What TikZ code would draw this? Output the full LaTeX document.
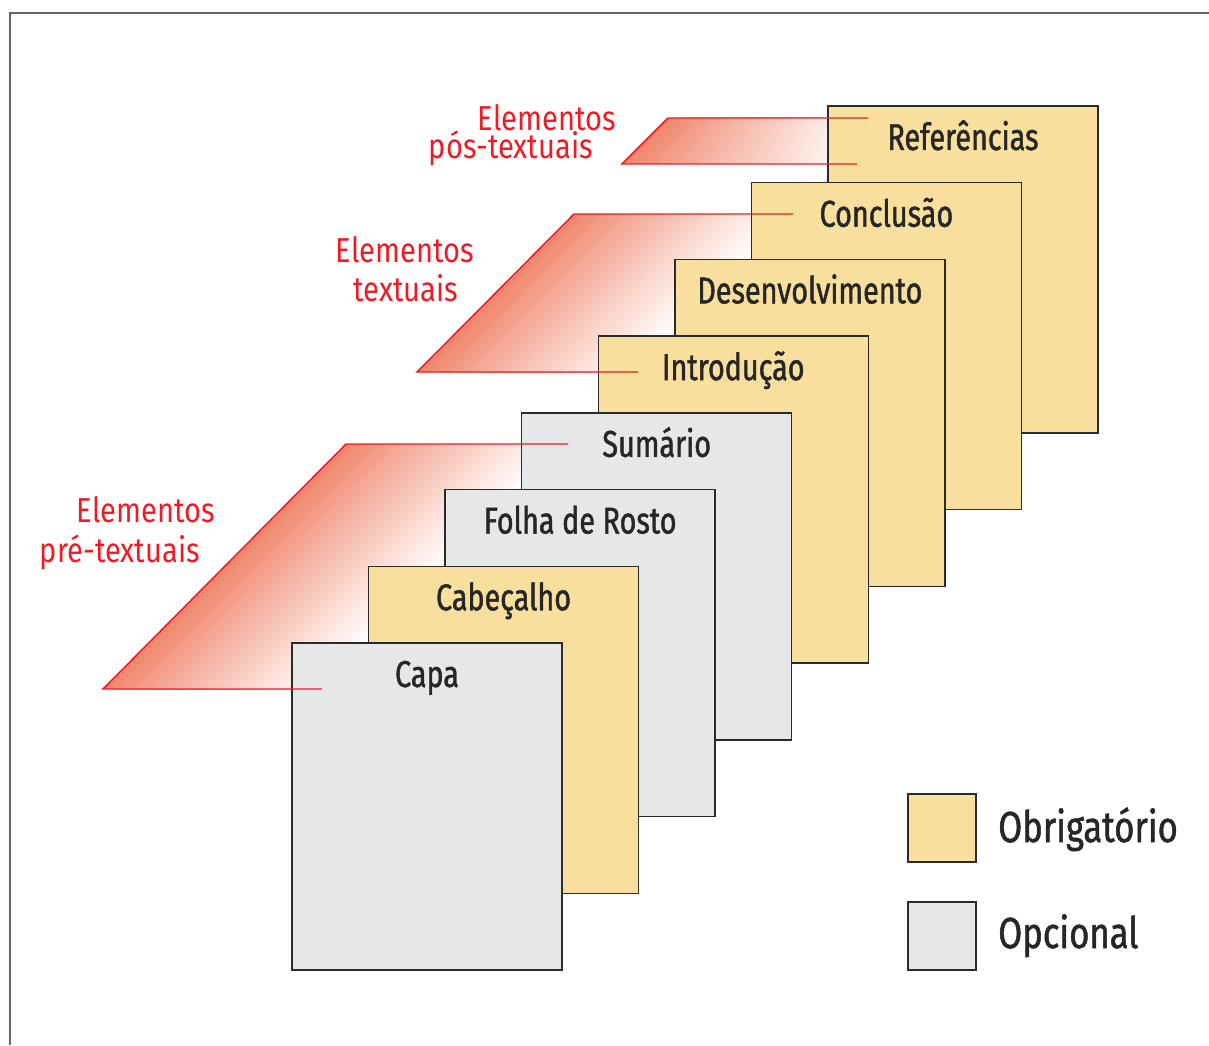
\documentclass[tikz,border=0pt]{standalone}
\usepackage{fontspec}
\setmainfont{Fira Sans}[FakeStretch=0.84]
\newfontfamily\rotulo{Fira Sans}[FakeStretch=0.77,FakeBold=1.2]
\newfontfamily\rotulolarg{Fira Sans}[FakeStretch=0.8,FakeBold=1.2]
\usetikzlibrary{calc}

\definecolor{amarelo}{HTML}{F9DF9D}
\definecolor{cinza}{HTML}{E6E7E8}
\definecolor{contorno}{HTML}{2B2A29}
\definecolor{vermelho}{HTML}{ED1C24}
\definecolor{salmao}{HTML}{F0876D}

\begin{document}
\begin{tikzpicture}[x=0.75pt,y=-0.75pt]

\tikzset{
    folha/.style = {
    draw=contorno, line width=1.1pt,
    minimum width=202.5pt, minimum height=245.25pt,
    inner sep=0pt, outer sep=0pt, anchor=north west
    }
}

\tikzstyle{obrig}=[folha, fill=amarelo]
\tikzstyle{opc}=[folha, fill=cinza]
\tikzstyle{titulo}=[anchor=base, font=\rotulo\fontsize{28}{30}\selectfont, text=black!85]
\tikzstyle{grupo}=[anchor=base, inner sep=0pt, font=\fontsize{26}{28}\selectfont, text=vermelho]
\tikzstyle{legenda}=[anchor=base west, inner sep=0pt, font=\rotulolarg\fontsize{32.5}{34}\selectfont, text=black!85]

\useasboundingbox (0,0) rectangle (1209,1045);
\draw[black!60, line width=1.2pt] (10,1045) |- (1209,13);

% faixas: a = canto de cima, d = canto de baixo, t/u = pontas das linhas
\coordinate (pos-a) at (668,118); \coordinate (pos-t) at (868,118);
\coordinate (pos-d) at (622,164); \coordinate (pos-u) at (857,164);
\coordinate (txt-a) at (574,214); \coordinate (txt-t) at (793,214);
\coordinate (txt-d) at (417,372); \coordinate (txt-u) at (638,372);
\coordinate (pre-a) at (346,444); \coordinate (pre-t) at (568,444);
\coordinate (pre-d) at (103,689); \coordinate (pre-u) at (322,689);

\foreach \w in {pos,txt,pre}{
    \foreach \k in {0,...,39}{
        \pgfmathsetmacro\f{\k/40}
        \pgfmathsetmacro\p{100*(1-\f)^1.1}
        \fill[salmao!\p!white] ($(\w-a)!\f!(\w-t)$) -- (\w-t) -- (\w-u) -- ($(\w-d)!\f!(\w-u)$) -- cycle;
    }
}

% folhas, de tras para a frente
\foreach \nome/\txt/\tipo [count=\i] in {ref/Referências/obrig, conc/Conclusão/obrig, desenv/Desenvolvimento/obrig, intro/Introdução/obrig, sum/Sumário/opc, rosto/Folha de Rosto/opc, cab/Cabeçalho/obrig, capa/Capa/opc}{
    \node (\nome) [\tipo] at ({828-76.57*(\i-1)},{106+76.71*(\i-1)}) {};
    \node (\nome-t) [titulo] at ($(\nome.north)+(0,44)$) {\txt};
}

\foreach \w in {pos,txt,pre}{
    \draw[vermelho, line width=1.1pt] (\w-t) -- (\w-a) -- (\w-d) -- (\w-u);
}

\node (pos-1) [grupo] at (547,131) {Elementos};
\node (pos-2) [grupo] at (511,158) {pós-textuais};
\node (txt-1) [grupo] at (405,262) {Elementos};
\node (txt-2) [grupo] at (406,301) {textuais};
\node (pre-1) [grupo] at (146,522) {Elementos};
\node (pre-2) [grupo] at (120,562) {pré-textuais};

% legenda
\node (leg-obrig) [obrig, minimum width=51pt, minimum height=51pt] at (908,794) {};
\node (leg-opc) [opc, minimum width=51pt, minimum height=51pt] at (908,902) {};
\node (leg-obrig-t) [legenda] at (998,842) {Obrigatório};
\node (leg-opc-t) [legenda] at (998,948) {Opcional};

\end{tikzpicture}
\end{document}
